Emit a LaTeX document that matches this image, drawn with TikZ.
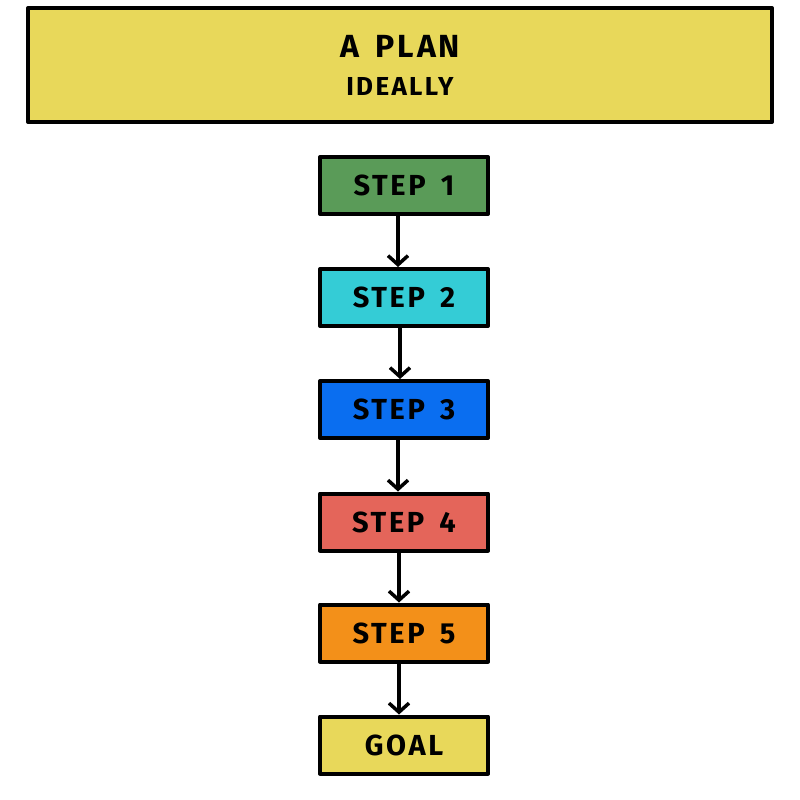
\documentclass[tikz,border=0pt]{standalone}
\usepackage{fontspec}
\setmainfont{Fira Sans}
\newfontfamily\spaced[LetterSpace=9,WordSpace=1.6]{Fira Sans}
\usetikzlibrary{arrows.meta}
\definecolor{cyellow}{RGB}{232,216,90}
\definecolor{cgreen}{RGB}{90,155,88}
\definecolor{ccyan}{RGB}{52,204,214}
\definecolor{cblue}{RGB}{10,110,240}
\definecolor{cred}{RGB}{228,101,90}
\definecolor{corange}{RGB}{243,144,25}
\tikzset{
  stepbox/.style={draw=black, line width=4pt, minimum width=168pt, minimum height=57pt, inner sep=0pt,
    font=\spaced\fontsize{29}{32}\selectfont\bfseries, line join=round},
  flow/.style={draw=black, line width=3.5pt, line cap=round, -{Straight Barb[length=9pt,width=20pt,line width=3.5pt]}}
}
\begin{document}
\begin{tikzpicture}[x=1pt,y=-1pt]
\useasboundingbox (0,0) rectangle (800,800);
\node[stepbox, fill=cyellow, minimum width=744pt, minimum height=114pt, align=center] (title) at (400,65)
  {\fontsize{32}{40}\selectfont A PLAN\\[6pt]\fontsize{26}{30}\selectfont IDEALLY};
\node[stepbox, fill=cgreen] (s1) at (404,185.5) {STEP 1};
\node[stepbox, fill=ccyan] (s2) at (404,297.5) {STEP 2};
\node[stepbox, fill=cblue] (s3) at (404,409.5) {STEP 3};
\node[stepbox, fill=cred] (s4) at (404,522) {STEP 4};
\node[stepbox, fill=corange] (s5) at (404,633) {STEP 5};
\node[stepbox, fill=cyellow] (goal) at (404,745) {GOAL};
\draw[flow] ([xshift=-6pt]s1.south) -- ([xshift=-6pt]s2.north);
\draw[flow] ([xshift=-4pt]s2.south) -- ([xshift=-4pt]s3.north);
\draw[flow] ([xshift=-6pt]s3.south) -- ([xshift=-6pt]s4.north);
\draw[flow] ([xshift=-5pt]s4.south) -- ([xshift=-5pt]s5.north);
\draw[flow] ([xshift=-5pt]s5.south) -- ([xshift=-5pt]goal.north);
\end{tikzpicture}
\end{document}
